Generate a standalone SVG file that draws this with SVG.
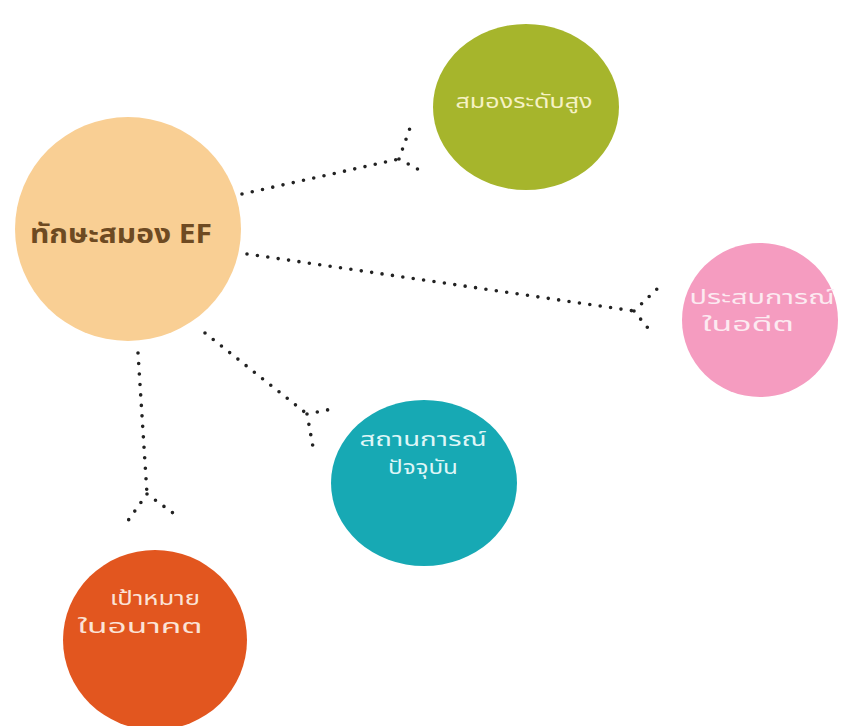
<svg xmlns="http://www.w3.org/2000/svg" width="841" height="726" viewBox="0 0 841 726">
  <style>
    .conn { fill: none; stroke: #222; stroke-width: 3.6; stroke-linecap: round; stroke-linejoin: round; stroke-dasharray: 0 10.5; }
    .lbl { font-family: "Noto Sans Thai", "Noto Sans", "DejaVu Sans", sans-serif; font-size: 19px; text-anchor: middle; }
    .main { font-family: "Noto Sans Thai", "Noto Sans", "DejaVu Sans", sans-serif; font-size: 26px; font-weight: bold; fill: #6E4A22; text-anchor: middle; }
  </style>
  <rect width="841" height="726" fill="#ffffff"/>
  <g id="connectors">
    <path class="conn" d="M242,194 L399,159 M399,159 L410,128 M399,159 L423,172"/>
    <path class="conn" d="M247,254 L634,311 M634,311 L658,288 M634,311 L652,333"/>
    <path class="conn" d="M205,333 L307,414 M307,414 L337,408 M307,414 L313,447"/>
    <path class="conn" d="M138,353 L147,494 M147,494 L127,522 M147,494 L173,513"/>
  </g>
  <g id="node-main">
    <ellipse cx="128" cy="229" rx="113" ry="112" fill="#F9CF94"/>
    <text class="main" x="121" y="243" textLength="182" lengthAdjust="spacingAndGlyphs">ทักษะสมอง EF</text>
  </g>
  <g id="node-green">
    <ellipse cx="526" cy="107" rx="93" ry="83" fill="#A6B52C"/>
    <text class="lbl" x="524" y="108" fill="#F6F2C4" font-size="21" textLength="137" lengthAdjust="spacingAndGlyphs">สมองระดับสูง</text>
  </g>
  <g id="node-pink">
    <ellipse cx="760" cy="320" rx="78" ry="77" fill="#F59CC0"/>
    <text class="lbl" x="762" y="304" fill="#FCEAF1" textLength="145" lengthAdjust="spacingAndGlyphs">ประสบการณ์</text>
    <text class="lbl" x="748" y="331" fill="#FCEAF1" textLength="92" lengthAdjust="spacingAndGlyphs">ในอดีต</text>
  </g>
  <g id="node-teal">
    <ellipse cx="424" cy="483" rx="93" ry="83" fill="#17A9B4"/>
    <text class="lbl" x="423" y="446" fill="#DFF6F7" textLength="127" lengthAdjust="spacingAndGlyphs">สถานการณ์</text>
    <text class="lbl" x="423" y="474" fill="#DFF6F7" textLength="70" lengthAdjust="spacingAndGlyphs">ปัจจุบัน</text>
  </g>
  <g id="node-orange">
    <ellipse cx="155" cy="640" rx="92" ry="90" fill="#E2561F"/>
    <text class="lbl" x="155" y="605" fill="#FBE3D6" textLength="90" lengthAdjust="spacingAndGlyphs">เป้าหมาย</text>
    <text class="lbl" x="140" y="633" fill="#FBE3D6" textLength="125" lengthAdjust="spacingAndGlyphs">ในอนาคต</text>
  </g>
</svg>
